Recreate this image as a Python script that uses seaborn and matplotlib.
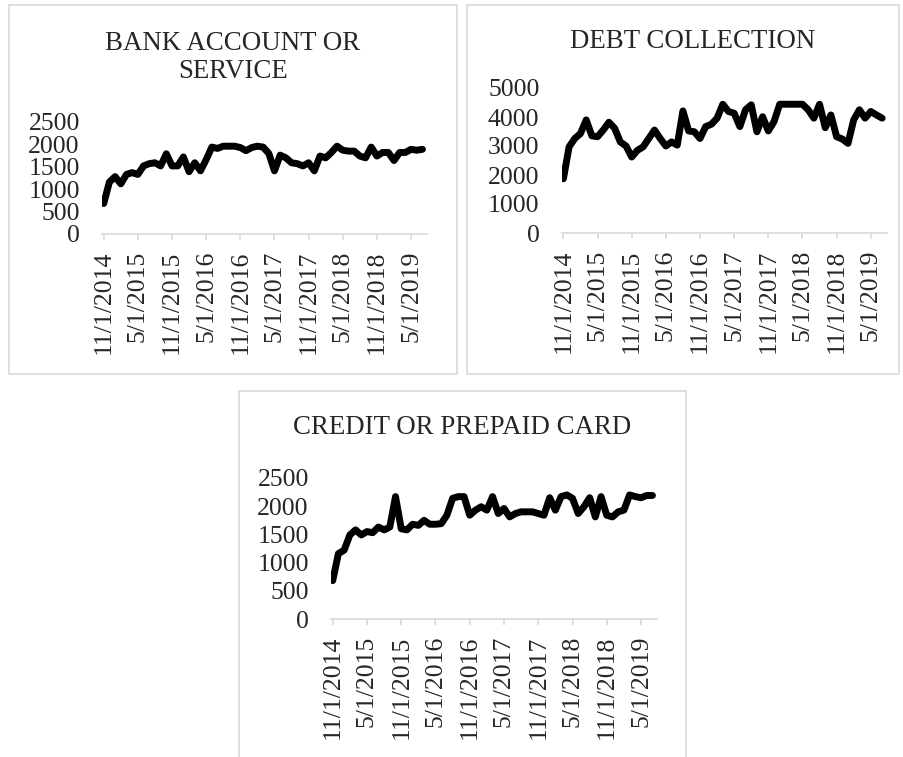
import pandas as pd
import numpy as np
import matplotlib.pyplot as plt
import seaborn as sns
from matplotlib.patches import Rectangle

# monthly complaint counts, 11/2014 - 7/2019
bank_account = [680, 1160, 1280, 1120, 1330, 1370, 1330, 1520, 1570, 1590,
                1520, 1790, 1520, 1520, 1720, 1390, 1590, 1410, 1660, 1940,
                1910, 1960, 1960, 1960, 1930, 1860, 1930, 1960, 1940, 1800,
                1410, 1760, 1700, 1590, 1570, 1520, 1590, 1410, 1740, 1700,
                1820, 1960, 1870, 1850, 1850, 1740, 1700, 1940, 1740, 1820,
                1820, 1640, 1820, 1820, 1890, 1870, 1890]
debt_collection = [1870, 2970, 3260, 3430, 3900, 3350, 3320, 3550, 3820, 3610,
                   3140, 3000, 2620, 2850, 2970, 3260, 3550, 3260, 3000, 3140,
                   3030, 4210, 3520, 3490, 3260, 3670, 3750, 3960, 4440, 4190,
                   4130, 3670, 4250, 4420, 3490, 4010, 3520, 3840, 4440, 4440,
                   4440, 4440, 4440, 4250, 3960, 4440, 3630, 4070, 3320, 3240,
                   3090, 3900, 4250, 3960, 4190, 4070, 3960]
credit_card = [680, 1160, 1220, 1490, 1580, 1490, 1550, 1530, 1630, 1580,
               1630, 2170, 1600, 1580, 1680, 1660, 1750, 1680, 1680, 1690,
               1840, 2140, 2170, 2170, 1840, 1930, 1990, 1930, 2170, 1870,
               1960, 1810, 1870, 1900, 1900, 1900, 1870, 1840, 2150, 1930,
               2170, 2200, 2140, 1870, 1990, 2150, 1810, 2170, 1840, 1810,
               1900, 1930, 2200, 2170, 2150, 2190, 2190]

tick_labels = ["11/1/2014", "5/1/2015", "11/1/2015", "5/1/2016", "11/1/2016",
               "5/1/2017", "11/1/2017", "5/1/2018", "11/1/2018", "5/1/2019"]

df = pd.DataFrame({
    "month": np.arange(len(bank_account)),
    "bank": bank_account,
    "debt": debt_collection,
    "credit": credit_card,
})

sns.set_theme(style="white")
plt.rcParams["font.family"] = ["Liberation Serif", "DejaVu Serif"]
fs = 18.5
title_fs = 19.4
grey = "#d9d9d9"

fig = plt.figure(figsize=(9.04, 7.57), dpi=100)

# chart borders (figure coords)
for x0, y0, w, h in [(9, 5, 448, 369), (467, 5, 432, 369), (239, 391, 447, 400)]:
    fig.patches.append(Rectangle((x0 / 904, 1 - (y0 + h) / 757), w / 904, h / 757,
                                 transform=fig.transFigure, fill=False,
                                 edgecolor=grey, linewidth=1.2))

panels = [
    ("bank", [102, 122, 325, 112], 2500, 500),
    ("debt", [561.7, 88, 325, 145], 5000, 1000),
    ("credit", [331, 478, 326, 141], 2500, 500),
]

for col, (l, t, w, h), ymax, step in panels:
    ax = fig.add_axes([l / 904, 1 - (t + h) / 757, w / 904, h / 757])
    sns.lineplot(data=df, x="month", y=col, ax=ax, color="black", linewidth=5)
    for ln in ax.lines:
        ln.set_solid_capstyle("round")
        ln.set_solid_joinstyle("round")
    ax.set_xlim(-0.3, len(df) - 0.2)
    ax.set_ylim(0, ymax)
    ax.set_yticks(np.arange(0, ymax + 1, step))
    ax.set_yticklabels([str(v) for v in np.arange(0, ymax + 1, step)], fontsize=fs)
    ax.set_xticks(np.arange(0, len(df), 6))
    ax.set_xticklabels(tick_labels, rotation=90, fontsize=fs)
    ax.set_xlabel("")
    ax.set_ylabel("")
    for s in ["left", "right", "top"]:
        ax.spines[s].set_visible(False)
    ax.spines["bottom"].set_color(grey)
    ax.spines["bottom"].set_linewidth(1.2)
    ax.tick_params(axis="x", length=4, width=1.2, color=grey, pad=8, bottom=True)
    ax.tick_params(axis="y", length=0, pad=16)
    ax.patch.set_alpha(0)

fig.text(233 / 904, 1 - 43 / 757, "BANK ACCOUNT OR", ha="center",
         va="center", fontsize=title_fs)
fig.text(233 / 904, 1 - 71.5 / 757, "SERVICE", ha="center",
         va="center", fontsize=title_fs)
fig.text(692.5 / 904, 1 - 42 / 757, "DEBT COLLECTION", ha="center", va="center",
         fontsize=title_fs)
fig.text(462 / 904, 1 - 428 / 757, "CREDIT OR PREPAID CARD", ha="center",
         va="center", fontsize=title_fs)

fig.savefig("out.png", dpi=100)
